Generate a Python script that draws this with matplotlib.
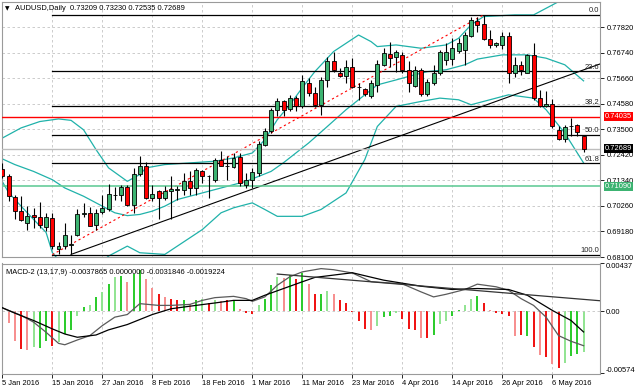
import numpy as np
import pandas as pd
import matplotlib
matplotlib.use('Agg')
import matplotlib.pyplot as plt
import matplotlib.transforms as mtrans

plt.rcParams['font.family'] = ['Liberation Sans', 'DejaVu Sans']
FS = 5.4

# ---- data (AUDUSD daily) ----
dates = pd.bdate_range('2016-01-05', periods=94)

opens = [0.7184, 0.7154, 0.7064, 0.7004, 0.6952, 0.6988, 0.6980, 0.6938, 0.6974, 0.6842,
         0.6856, 0.6860, 0.6901, 0.6991, 0.6997, 0.6947, 0.7000, 0.7011, 0.7071, 0.7074,
         0.7107, 0.7032, 0.7159, 0.7194, 0.7060, 0.7088, 0.7060, 0.7088, 0.7095, 0.7095,
         0.7130, 0.7102, 0.7173, 0.7152, 0.7137, 0.7219, 0.7194, 0.7191, 0.7233, 0.7116,
         0.7134, 0.7166, 0.7285, 0.7341, 0.7430, 0.7468, 0.7436, 0.7482, 0.7450, 0.7545,
         0.7503, 0.7454, 0.7559, 0.7637, 0.7590, 0.7576, 0.7613, 0.7529, 0.7520, 0.7492,
         0.7538, 0.7623, 0.7669, 0.7655, 0.7665, 0.7599, 0.7534, 0.7599, 0.7500, 0.7545,
         0.7590, 0.7644, 0.7647, 0.7683, 0.7686, 0.7745, 0.7810, 0.7796, 0.7731, 0.7707,
         0.7707, 0.7745, 0.7590, 0.7623, 0.7590, 0.7665, 0.7482, 0.7447, 0.7458, 0.7348,
         0.7309, 0.7365, 0.7370, 0.73209]
highs = [0.7209, 0.7160, 0.7074, 0.7067, 0.7025, 0.7018, 0.7042, 0.6997, 0.6994, 0.6872,
         0.6952, 0.6905, 0.7011, 0.7039, 0.7021, 0.7014, 0.7073, 0.7120, 0.7107, 0.7116,
         0.7116, 0.7187, 0.7236, 0.7211, 0.7116, 0.7095, 0.7109, 0.7152, 0.7109, 0.7166,
         0.7173, 0.7187, 0.7180, 0.7156, 0.7229, 0.7257, 0.7236, 0.7250, 0.7250, 0.7166,
         0.7187, 0.7299, 0.7356, 0.7440, 0.7482, 0.7475, 0.7496, 0.7489, 0.7581, 0.7567,
         0.7531, 0.7573, 0.7658, 0.7679, 0.7609, 0.7644, 0.7651, 0.7545, 0.7524, 0.7559,
         0.7644, 0.7693, 0.7721, 0.7686, 0.7679, 0.7637, 0.7618, 0.7609, 0.7562, 0.7623,
         0.7686, 0.7714, 0.7735, 0.7735, 0.7763, 0.7827, 0.7827, 0.7834, 0.7770, 0.7721,
         0.7763, 0.7763, 0.7658, 0.7637, 0.7669, 0.7717, 0.7517, 0.7514, 0.7478, 0.7362,
         0.7370, 0.7399, 0.7374, 0.73230]
lows = [0.7146, 0.7046, 0.6971, 0.6962, 0.6926, 0.6934, 0.6934, 0.6920, 0.6845, 0.6822,
        0.6842, 0.6822, 0.6898, 0.6980, 0.6940, 0.6923, 0.6990, 0.7004, 0.7053, 0.7046,
        0.7025, 0.6994, 0.7151, 0.7057, 0.7046, 0.6969, 0.7053, 0.6969, 0.7053, 0.7074,
        0.7074, 0.7074, 0.7124, 0.7060, 0.7126, 0.7194, 0.7137, 0.7187, 0.7109, 0.7102,
        0.7102, 0.7152, 0.7278, 0.7335, 0.7407, 0.7407, 0.7426, 0.7426, 0.7440, 0.7489,
        0.7444, 0.7412, 0.7531, 0.7594, 0.7571, 0.7545, 0.7524, 0.7475, 0.7492, 0.7482,
        0.7510, 0.7616, 0.7613, 0.7594, 0.7590, 0.7506, 0.7529, 0.7489, 0.7492, 0.7538,
        0.7581, 0.7623, 0.7623, 0.7672, 0.7623, 0.7742, 0.7763, 0.7728, 0.7693, 0.7700,
        0.7689, 0.7545, 0.7573, 0.7581, 0.7588, 0.7475, 0.7444, 0.7444, 0.7356, 0.7306,
        0.7295, 0.7320, 0.7320, 0.72535]
closes = [0.7154, 0.7067, 0.7004, 0.6966, 0.6985, 0.6980, 0.6947, 0.6980, 0.6856, 0.6856,
          0.6905, 0.6863, 0.6993, 0.6994, 0.6943, 0.6997, 0.7018, 0.7077, 0.7073, 0.7107,
          0.7028, 0.7159, 0.7194, 0.7060, 0.7077, 0.7060, 0.7088, 0.7098, 0.7097, 0.7130,
          0.7102, 0.7177, 0.7152, 0.7151, 0.7219, 0.7197, 0.7196, 0.7229, 0.7124, 0.7137,
          0.7168, 0.7290, 0.7345, 0.7430, 0.7468, 0.7433, 0.7482, 0.7447, 0.7555, 0.7503,
          0.7454, 0.7559, 0.7637, 0.7599, 0.7576, 0.7613, 0.7529, 0.7530, 0.7500, 0.7545,
          0.7627, 0.7672, 0.7651, 0.7679, 0.7599, 0.7545, 0.7599, 0.7500, 0.7552, 0.7588,
          0.7679, 0.7679, 0.7693, 0.7714, 0.7749, 0.7813, 0.7791, 0.7731, 0.7707, 0.7714,
          0.7745, 0.7588, 0.7623, 0.7602, 0.7665, 0.7482, 0.7450, 0.7458, 0.7362, 0.7309,
          0.7360, 0.7364, 0.7337, 0.72689]

# bollinger bands
bb_up_idx = [0, 3, 6, 9, 11, 13, 15, 17, 20, 22, 23, 26, 30, 34, 37, 40, 42, 44, 46, 48,
             50, 53, 57, 59, 60, 63, 67, 71, 73, 75, 77, 82, 85, 89, 93]
bb_up = [0.7313, 0.7356, 0.7383, 0.7394, 0.7388, 0.7348, 0.7264, 0.7187, 0.7130, 0.7159,
         0.7187, 0.7201, 0.7208, 0.7215, 0.7229, 0.7250, 0.7306, 0.7391, 0.7454, 0.7526,
         0.7594, 0.7679, 0.7749, 0.7721, 0.7700, 0.7707, 0.7693, 0.7707, 0.7735, 0.7792,
         0.7827, 0.7834, 0.7834, 0.7890, 0.7960]
bb_mid_idx = [0, 2, 5, 8, 10, 13, 16, 18, 20, 22, 24, 26, 28, 32, 34, 37, 39, 41, 43, 45,
              49, 52, 55, 58, 60, 63, 66, 68, 71, 74, 76, 80, 84, 87, 90, 93]
bb_mid = [0.7225, 0.7201, 0.7172, 0.7137, 0.7102, 0.7067, 0.7025, 0.6997, 0.6985, 0.6990,
          0.7004, 0.7025, 0.7053, 0.7081, 0.7095, 0.7116, 0.7130, 0.7151, 0.7172, 0.7209,
          0.7292, 0.7362, 0.7433, 0.7496, 0.7538, 0.7559, 0.7581, 0.7594, 0.7602, 0.7623,
          0.7647, 0.7665, 0.7665, 0.7651, 0.7623, 0.7555]
bb_low_idx = [0, 1, 3, 5, 7, 8, 10, 13, 15, 17, 20, 22, 26, 28, 32, 35, 37, 40, 42, 44,
              48, 51, 55, 58, 60, 63, 67, 70, 73, 75, 78, 81, 83, 85, 87, 90, 93]
bb_low = [0.7129, 0.7083, 0.7025, 0.6969, 0.6914, 0.6829, 0.6766, 0.6737, 0.6766, 0.6814,
          0.6856, 0.6828, 0.6821, 0.6856, 0.6926, 0.6997, 0.7018, 0.7039, 0.7011, 0.6982,
          0.6982, 0.7011, 0.7081, 0.7222, 0.7362, 0.7447, 0.7468, 0.7482, 0.7475, 0.7454,
          0.7475, 0.7496, 0.7489, 0.7482, 0.7433, 0.7334, 0.7208]

# drawn objects
fib_start, fib_end = 8, 77
fib_low, fib_high = 0.6820, 0.7834
fib_pcts = [0.0, 23.6, 38.2, 50.0, 61.8, 100.0]
trend_idx = [11, 96]
trend_val = [0.6821, 0.7630]
red_level = 0.74035
green_level = 0.71090

price_ticks = [0.68100, 0.69180, 0.70260, 0.71340, 0.72420, 0.73500,
               0.74580, 0.75660, 0.76740, 0.77820]

# MACD-2 (13,17,9)
hist = [-0.00155, -0.0011, -0.00278, -0.0035, -0.00359, -0.00334, -0.0034, -0.00278, -0.00319, -0.00288,
        -0.00211, -0.00173, -0.0005, 0.00037, 0.00052, 0.0013, 0.00176, 0.00253, 0.00315, 0.00321,
        0.00269, 0.0034, 0.00377, 0.0029, 0.00216, 0.00154, 0.0013, 0.00114, 0.00098, 0.00098,
        0.00061, 0.00105, 0.00114, 0.00074, 0.00098, 0.00093, 0.00098, 0.00105, 0.00021, -0.00019,
        -0.00025, 0.00052, 0.00114, 0.00237, 0.00315, 0.003, 0.0033, 0.0029, 0.00346, 0.00247,
        0.00154, 0.00154, 0.00185, 0.00154, 0.00098, 0.00074, -0.0001, -0.00087, -0.00164, -0.00173,
        -0.00134, -0.00056, -0.00041, -0.00019, -0.00071, -0.00164, -0.00173, -0.00248, -0.00248, -0.00217,
        -0.00118, -0.00087, -0.00041, 0.00005, 0.00052, 0.00114, 0.00135, 0.00074, 0.00012, -0.00019,
        -0.00028, -0.00043, -0.00226, -0.0022, -0.00226, -0.00328, -0.00402, -0.00421, -0.00489, -0.0052,
        -0.00482, -0.00412, -0.00396, -0.0037865]
hist_kind = ['r', 'lr', 'lr', 'r', 'lr', 'lg', 'g', 'g', 'r', 'lg',
             'g', 'g', 'lg', 'g', 'lg', 'g', 'lg', 'g', 'lg', 'g',
             'lr', 'g', 'g', 'lr', 'lr', 'r', 'lr', 'r', 'r', 'g',
             'lr', 'g', 'lg', 'r', 'lg', 'lr', 'r', 'g', 'lr', 'r',
             'r', 'lg', 'g', 'g', 'lg', 'lr', 'g', 'r', 'g', 'lr',
             'r', 'g', 'lg', 'lr', 'r', 'r', 'r', 'r', 'r', 'lr',
             'lg', 'g', 'g', 'lg', 'r', 'r', 'r', 'lr', 'r', 'g',
             'lg', 'lg', 'g', 'g', 'lg', 'lg', 'g', 'r', 'lr', 'r',
             'r', 'r', 'lr', 'r', 'g', 'r', 'lr', 'r', 'lr', 'r',
             'lg', 'g', 'g', 'lg']
macd_idx = [0, 1, 3, 5, 7, 9, 10, 12, 14, 16, 18, 20, 22, 25, 27, 30, 32, 34, 37, 39,
            40, 42, 44, 46, 48, 51, 53, 56, 59, 64, 67, 69, 71, 74, 76, 79, 81, 83, 85, 87,
            89, 91, 93]
macd_line = [0.0003, 0.00006, -0.0004, -0.00102, -0.00195, -0.00297, -0.0031, -0.00266, -0.00226, -0.00134,
             -0.00056, -0.00032, 0.00068, 0.00052, 0.00052, 0.00061, 0.00098, 0.00123, 0.00135, 0.00114,
             0.00089, 0.0013, 0.00237, 0.00315, 0.0036, 0.0039, 0.0038, 0.0035, 0.0027, 0.0025,
             0.00176, 0.0013, 0.00154, 0.00198, 0.00247, 0.00223, 0.00191, 0.00114, 0.00052, -0.00056,
             -0.00226, -0.00278, -0.0031846]
sig_idx = [0, 2, 5, 8, 10, 12, 15, 17, 20, 24, 27, 31, 34, 37, 40, 42, 45, 48, 50, 56,
           61, 67, 72, 76, 81, 84, 88, 91, 93]
sig_line = [0.0003, -0.00019, -0.00087, -0.00164, -0.00211, -0.00241, -0.0022, -0.00173, -0.00124, -0.00032,
            0.00021, 0.00052, 0.00074, 0.00098, 0.00098, 0.00145, 0.00207, 0.00269, 0.00309, 0.00352,
            0.00284, 0.00228, 0.00198, 0.00207, 0.00198, 0.00145, 0.00006, -0.00087, -0.0019224]
macd_tl_idx = [44, 96]
macd_tl_val = [0.0034, 0.00093]
macd_min, macd_max = -0.005741, 0.00437

# ---- figure ----
W, H = 635, 391
fig = plt.figure(figsize=(W / 100, H / 100), dpi=100)
fig.patch.set_facecolor('white')

ax = fig.add_axes([2 / W, 1 - 257 / H, 598 / W, 255 / H])
ax2 = fig.add_axes([2 / W, 1 - 373.5 / H, 598 / W, 110 / H])

xlim = (-0.05, 95.63)
grid_kw = dict(color='#c4c4c4', linestyle=(0, (3, 3)), linewidth=0.6)
tick_idx = list(range(0, len(dates), 8))

for a in (ax, ax2):
    a.set_xlim(*xlim)
    a.set_facecolor('white')
    for s in a.spines.values():
        s.set_color('#9a9a9a')
        s.set_linewidth(0.8)
    a.set_xticks(tick_idx)
    a.grid(True, axis='x', **grid_kw)
    a.set_axisbelow(True)

# main panel
ax.set_ylim(0.68125, 0.78886)
ax.yaxis.tick_right()
ax.set_yticks(price_ticks)
ax.set_yticklabels([f'{p:.5f}' for p in price_ticks])
ax.tick_params(axis='y', length=3, width=0.6, pad=2, labelsize=FS, colors='black')
ax.tick_params(axis='x', length=0, labelbottom=False)
ax.grid(True, axis='y', **grid_kw)

bb_col = '#20b2aa'
ax.plot(bb_up_idx, bb_up, color=bb_col, lw=0.9, zorder=2)
ax.plot(bb_mid_idx, bb_mid, color=bb_col, lw=0.9, zorder=2)
ax.plot(bb_low_idx, bb_low, color=bb_col, lw=0.9, zorder=2)

# fibonacci retracement
for pct in fib_pcts:
    lvl = fib_high - (fib_high - fib_low) * pct / 100
    ax.plot([fib_start, xlim[1]], [lvl, lvl], color='black', lw=0.9, zorder=3)
    ax.text(xlim[1] - 0.15, lvl + 0.0002, f'{pct:.1f}', ha='right', va='bottom',
            fontsize=FS, color='#222222', zorder=6)
ax.plot([fib_start, fib_end], [fib_low, fib_high], color='red', lw=0.8,
        linestyle=(0, (2, 2.5)), zorder=3)

# trend line and horizontal lines
ax.plot(trend_idx, trend_val, color='black', lw=0.8, zorder=3)
ax.axhline(red_level, color='red', lw=1.0, zorder=3)
ax.axhline(green_level, color='#66cc99', lw=1.2, zorder=3)
ax.axhline(closes[-1], color='#bdbdbd', lw=1.0, zorder=3)

# candles
x = np.arange(len(closes))
o, h, l, c = (np.array(v) for v in (opens, highs, lows, closes))
up = c >= o
ax.vlines(x, l, h, color='black', lw=0.8, zorder=4)
body = np.maximum(np.abs(c - o), 0.00004)
ax.bar(x, body, bottom=np.minimum(o, c), width=0.62,
       color=np.where(up, '#3cb371', '#ff0000'), edgecolor='black', linewidth=0.6, zorder=5)

# price boxes on the axis
ytr = mtrans.blended_transform_factory(ax.transAxes, ax.transData)
for lvl, fc in [(red_level, '#ff0000'), (closes[-1], '#000000'), (green_level, '#3cb371')]:
    ax.text(1.0 + 5 / 598, lvl, f'{lvl:.5f}', transform=ytr, ha='left', va='center',
            fontsize=FS, color='white', zorder=10, clip_on=False,
            bbox=dict(boxstyle='square,pad=0.12', fc=fc, ec='none'))

# title
fig.text(4.5 / W, 1 - 8.5 / H, '\u25bc', fontsize=4.2, family='DejaVu Sans', va='center')
fig.text(15 / W, 1 - 8.5 / H, 'AUDUSD,Daily  0.73209 0.73230 0.72535 0.72689',
         fontsize=FS, va='center')

# MACD panel
ax2.set_ylim(macd_min, macd_max)
hist_cols = {'g': '#2ecc2e', 'lg': '#93e493', 'r': '#f01414', 'lr': '#f79090'}
ax2.bar(x, hist, width=0.32, color=[hist_cols[k] for k in hist_kind], zorder=2)
ax2.axhline(0, **grid_kw)
ax2.plot(macd_idx, macd_line, color='#5a5a5a', lw=0.9, zorder=3)
ax2.plot(sig_idx, sig_line, color='black', lw=0.9, zorder=3)
ax2.plot(macd_tl_idx, macd_tl_val, color='#333333', lw=0.9, zorder=3)

ax2.yaxis.tick_right()
ax2.set_yticks([macd_min, 0, macd_max])
ylabs = ax2.set_yticklabels(['-0.005741', '0.00', '0.00437'])
ylabs[0].set_va('bottom')
ylabs[2].set_va('top')
ax2.tick_params(axis='y', length=3, width=0.6, pad=1.2, labelsize=FS, colors='black')

xlabs = ax2.set_xticklabels([f'{d.day} {d:%b %Y}' for d in dates[tick_idx]])
for t in xlabs:
    t.set_ha('left')
ax2.tick_params(axis='x', length=3, width=0.6, pad=1.5, labelsize=FS, colors='black')

ax2.text(4 / 598, 1 - 6 / 110, 'MACD-2 (13,17,9) -0.0037865 0.0000000 -0.0031846 -0.0019224',
         transform=ax2.transAxes, fontsize=FS, va='top', ha='left')

fig.savefig('out.png', dpi=100)
